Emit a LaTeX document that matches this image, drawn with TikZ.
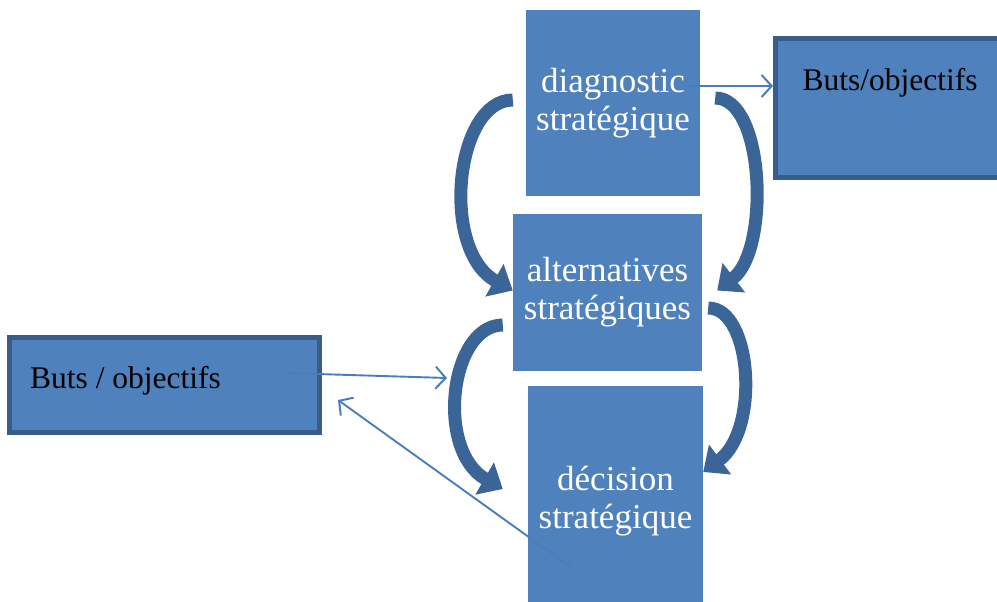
\documentclass[tikz,border=0pt]{standalone}
\usepackage{fontspec}
\setmainfont{Liberation Serif}
\usetikzlibrary{arrows.meta}
\definecolor{boxblue}{HTML}{4F81BD}
\definecolor{edgeblue}{HTML}{385D8A}
\definecolor{arcblue}{HTML}{3C6597}
\definecolor{linkblue}{HTML}{4A7EBB}

\begin{document}
\begin{tikzpicture}[x=1pt,y=-1pt,
  stage/.style={fill=boxblue, text=white, inner sep=0pt, align=center,
    font=\fontsize{35}{38}\selectfont},
  goal/.style={fill=boxblue, draw=edgeblue, line width=5pt, inner sep=0pt},
  goaltext/.style={text=black, inner sep=0pt, font=\fontsize{31.5}{36}\selectfont},
  cycle/.style={draw=arcblue, line width=13pt, -{Triangle[length=21pt,width=36pt]}},
  link/.style={draw=linkblue, line width=1.9pt,
    -{Straight Barb[length=10pt,width=22pt,line width=2pt]}}
]
\useasboundingbox (0,0) rectangle (997,602);
\clip (0,0) rectangle (997,602);

% the three stages of the process
\node[stage, minimum width=174pt, minimum height=186pt] (diag) at (613,103)
  {diagnostic\\stratégique};
\node[stage, minimum width=189pt, minimum height=157pt] (alt) at (607.5,292.5)
  {alternatives\\stratégiques};
\node[stage, minimum width=175pt, minimum height=220pt] (dec) at (615.5,496)
  {\\[-4pt]décision\\stratégique};

% goal boxes
\node[goal, minimum width=230pt, minimum height=139pt] (rbox) at (890.5,108) {};
\node[goaltext] (rtext) at (890,83) {Buts/objectifs};
\node[goal, minimum width=310pt, minimum height=95pt] (lbox) at (164.5,385) {};
\node[goaltext, anchor=west] (ltext) at (30,381) {Buts / objectifs};

% curved transitions between the stages
\draw[cycle] ([xshift=-13pt,yshift=3pt]diag.west)
  .. controls (455,100) and (440,250) .. ([yshift=2pt]alt.west);
\draw[cycle] ([xshift=15pt,yshift=5pt]diag.east)
  .. controls (765,98) and (770,250) .. ([xshift=15pt,yshift=2pt]alt.east);
\draw[cycle] ([xshift=-10pt,yshift=-32.5pt]alt.west)
  .. controls (450,325) and (435,450) .. ([xshift=-25pt,yshift=7pt]dec.west);
\draw[cycle] ([xshift=6pt,yshift=-15.5pt]alt.east)
  .. controls (752,308) and (760,430) .. ([yshift=24pt]dec.east);

% thin links to the goals
\coordinate (lhead) at (447,378);
\draw[link] ([xshift=-12pt,yshift=17pt]diag.east) -- ([yshift=22pt]rbox.west);
\draw[link] ([xshift=-37pt,yshift=12pt]lbox.east) -- (lhead);
\draw[link] ([xshift=-45pt,yshift=-71pt]dec.center) -- ([xshift=16pt,yshift=-15pt]lbox.east);
\end{tikzpicture}
\end{document}
